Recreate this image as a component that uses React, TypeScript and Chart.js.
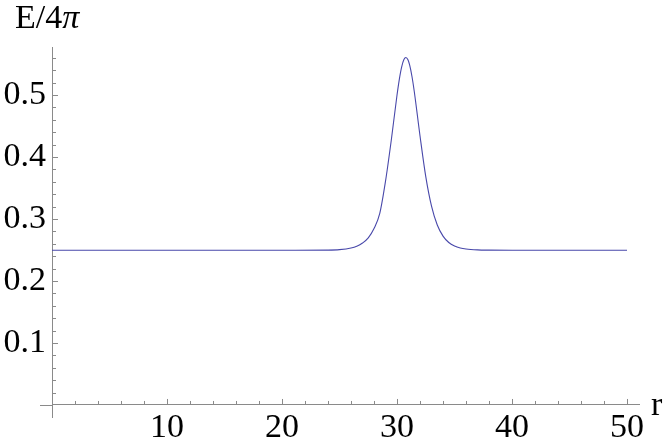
import React, { useEffect, useRef } from "react";
import { Chart, registerables } from "chart.js";

Chart.register(...registerables);

// r values (x) and E/4π values (y)
const rValues = [
  0, 10, 20, 24, 25, 26, 26.5, 27, 27.5, 28, 28.5, 29, 29.5, 30, 30.2, 30.4,
  30.6, 30.77, 30.95, 31.1, 31.3, 31.5, 32, 32.5, 33, 33.5, 34, 34.5, 35, 35.5,
  36, 37, 38, 40, 50,
];
const eValues = [
  0.2495, 0.2495, 0.2495, 0.2498, 0.2505, 0.2531, 0.256, 0.2612, 0.2695, 0.2845,
  0.309, 0.361, 0.427, 0.5, 0.5253, 0.545, 0.5571, 0.5605, 0.5568, 0.548, 0.5298,
  0.5056, 0.4339, 0.3683, 0.3206, 0.2902, 0.2723, 0.262, 0.2564, 0.2532, 0.2515,
  0.2501, 0.2497, 0.2495, 0.2495,
];

const xTickLabels = [10, 20, 30, 40, 50];
const yTickLabels = [0.1, 0.2, 0.3, 0.4, 0.5];

const X_MIN = 0;
const X_MAX = 51.04;
const X_AXIS_LEFT_EXT = -1.043;
const Y_MIN = -0.0194;
const Y_MAX = 0.5774;

const FONT = "'Liberation Serif', 'Times New Roman', serif";
const FONT_SIZE = 34;
const AXIS_COLOR = "#8a8a8a";

const axisDecor = {
  id: "axisDecor",
  afterDraw(chart: any) {
    const ctx = chart.ctx;
    const xs = chart.scales.x;
    const ys = chart.scales.y;
    const x0 = xs.getPixelForValue(0);
    const y0 = ys.getPixelForValue(0);
    ctx.save();
    ctx.strokeStyle = AXIS_COLOR;
    ctx.lineWidth = 1;
    ctx.beginPath();
    // x axis continues slightly left of the y axis
    const yl = Math.round(y0) + 0.5;
    ctx.moveTo(x0 - Math.abs(X_AXIS_LEFT_EXT) * (xs.getPixelForValue(1) - x0), yl);
    ctx.lineTo(x0, yl);
    for (const t of xs.ticks) {
      if (t.value <= 0) continue;
      const major = xTickLabels.some((v) => Math.abs(v - t.value) < 1e-6);
      const px = Math.round(xs.getPixelForValue(t.value)) + 0.5;
      ctx.moveTo(px, y0);
      ctx.lineTo(px, y0 - (major ? 6 : 4));
    }
    for (const t of ys.ticks) {
      if (t.value <= 0) continue;
      const major = yTickLabels.some((v) => Math.abs(v - t.value) < 1e-6);
      const py = Math.round(ys.getPixelForValue(t.value)) + 0.5;
      ctx.moveTo(x0, py);
      ctx.lineTo(x0 + (major ? 6 : 4), py);
    }
    ctx.stroke();

    // axis labels
    ctx.fillStyle = "#000";
    ctx.textBaseline = "alphabetic";
    ctx.textAlign = "left";
    ctx.font = `${FONT_SIZE}px ${FONT}`;
    const t1 = "E/4";
    ctx.fillText(t1, 15, 28);
    const w1 = ctx.measureText(t1).width;
    ctx.font = `italic ${FONT_SIZE}px ${FONT}`;
    ctx.fillText("π", 15 + w1, 28);
    ctx.font = `${FONT_SIZE}px ${FONT}`;
    ctx.fillText("r", 651, 415);
    ctx.restore();
  },
};

export default function App() {
  const ref = useRef<HTMLCanvasElement | null>(null);
  useEffect(() => {
    if (!ref.current) return;
    const chart = new Chart(ref.current, {
      type: "line",
      data: {
        datasets: [
          {
            data: rValues.map((r, i) => ({ x: r, y: eValues[i] })),
            borderColor: "rgb(72,72,170)",
            borderWidth: 1.1,
            pointRadius: 0,
            fill: false,
            cubicInterpolationMode: "monotone",
          },
        ],
      },
      options: {
        animation: false,
        responsive: false,
        events: [],
        layout: { padding: { left: 0, right: 26, top: 47, bottom: 31 } },
        plugins: { legend: { display: false }, tooltip: { enabled: false } },
        scales: {
          x: {
            type: "linear",
            position: { y: 0 } as any,
            min: X_MIN,
            max: X_MAX,
            grid: { drawOnChartArea: false, drawTicks: false },
            border: { color: AXIS_COLOR, width: 1 },
            ticks: {
              stepSize: 2,
              autoSkip: false,
              maxRotation: 0,
              includeBounds: false,
              padding: 3,
              color: "#000",
              font: { family: FONT, size: FONT_SIZE },
              callback: (v: any) => {
                const n = Number(v);
                return xTickLabels.some((t) => Math.abs(t - n) < 1e-6) ? String(Math.round(n)) : "";
              },
            },
          },
          y: {
            type: "linear",
            position: "left",
            min: Y_MIN,
            max: Y_MAX,
            afterFit: (s: any) => {
              s.width = 52;
            },
            grid: { drawOnChartArea: false, drawTicks: false },
            border: { color: AXIS_COLOR, width: 1 },
            ticks: {
              stepSize: 0.02,
              autoSkip: false,
              includeBounds: false,
              padding: 6,
              color: "#000",
              font: { family: FONT, size: FONT_SIZE },
              callback: (v: any) => {
                const n = Number(v);
                return yTickLabels.some((t) => Math.abs(t - n) < 1e-6) ? n.toFixed(1) : "";
              },
            },
          },
        },
      },
      plugins: [axisDecor],
    });
    return () => chart.destroy();
  }, []);
  return (
    <div style={{ position: "fixed", left: 0, top: 0, width: 665, height: 448, background: "#fff" }}>
      <canvas ref={ref} width={665} height={448} style={{ display: "block" }} />
    </div>
  );
}
